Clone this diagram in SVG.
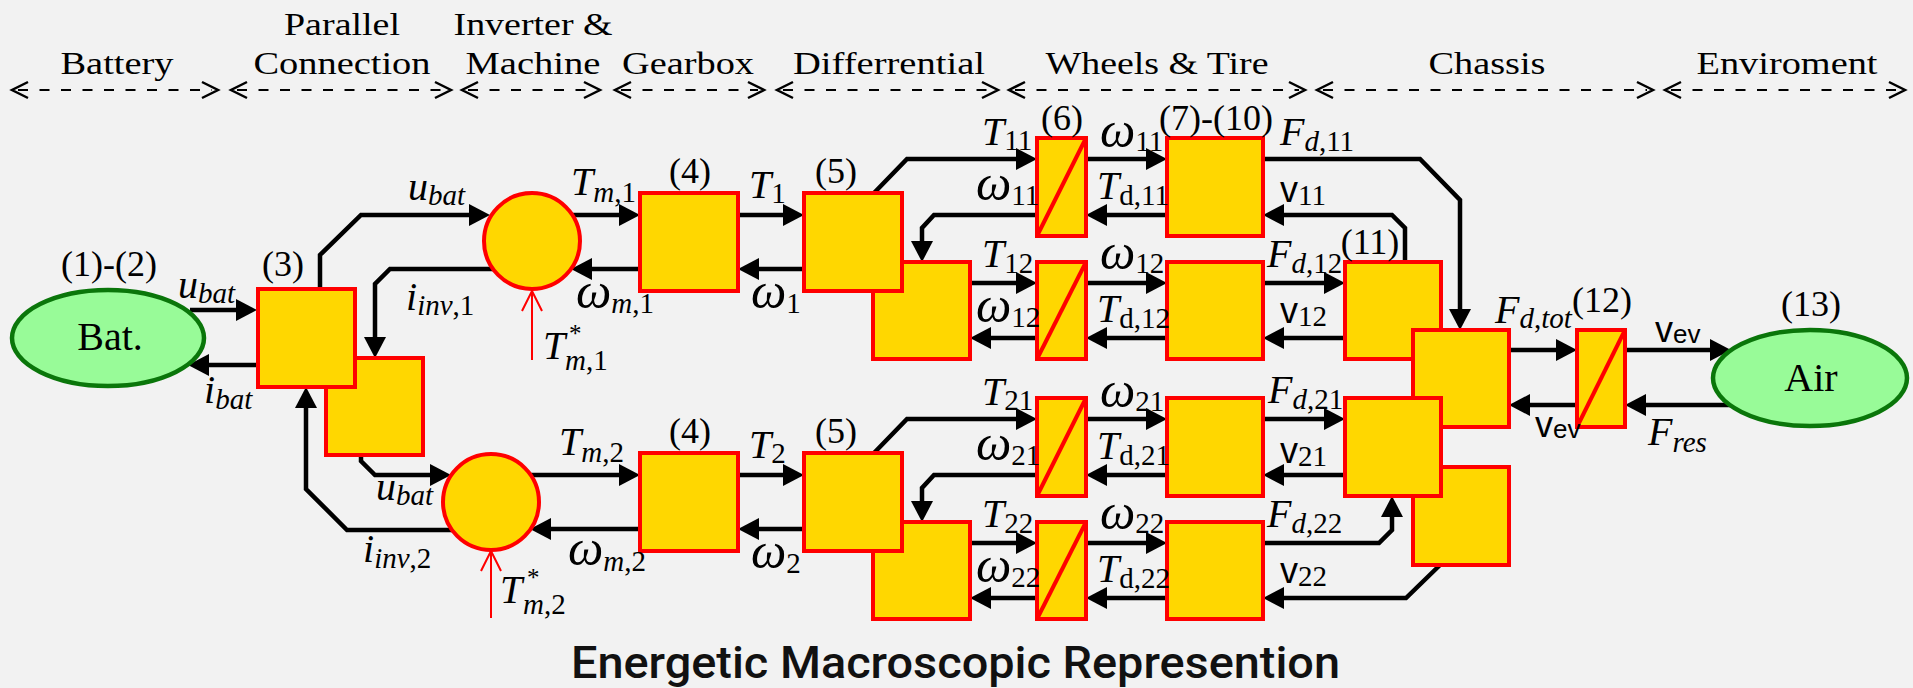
<svg xmlns="http://www.w3.org/2000/svg" xmlns:xlink="http://www.w3.org/1999/xlink" width="1913" height="688" viewBox="0 0 1913 688">
<defs>
<style>
.hd{font-family:"Liberation Serif",serif;font-size:32px;fill:#000;text-anchor:middle}
.hl{fill:none;stroke:#000;stroke-width:2;stroke-dasharray:10 11.5}
.hc{fill:none;stroke:#000;stroke-width:2.5}
.c{fill:none;stroke:#000;stroke-width:4.5;marker-end:url(#ah)}
.box{fill:#FFD700;stroke:#FF0000;stroke-width:4}
.ol{fill:none;stroke:#FF0000;stroke-width:4}
.dg{stroke:#FF0000;stroke-width:4}
.src{fill:#98FB98;stroke:#0A760A;stroke-width:4.5}
.rd{fill:none;stroke:#FF0000;stroke-width:2}
.l{font-family:"Liberation Serif",serif;font-size:40px;fill:#000}
.i{font-style:italic}
.n{font-style:normal}
.s{font-size:29px}
.st{font-size:25px}
.w{font-size:50px}
.num{font-family:"Liberation Serif",serif;font-size:36px;fill:#000;text-anchor:middle}
.v{font-family:"Liberation Sans",sans-serif;font-size:36px;fill:#000}
.vs{font-family:"Liberation Serif",serif;font-size:29px}
.ve{font-family:"Liberation Sans",sans-serif;font-size:26px}
.ttl{font-family:Roboto,"Liberation Sans",sans-serif;font-weight:500;font-size:44px;fill:#111}
</style>
<marker id="ah" viewBox="0 0 21 22" refX="11" refY="11" markerWidth="21" markerHeight="22" markerUnits="userSpaceOnUse" orient="auto">
<path d="M0,0 L21,11 L0,22 z" fill="#000"/>
</marker>
</defs>
<rect x="0" y="0" width="1913" height="688" fill="#F2F2F2"/>

<g id="headers">
<text class="hd" x="117" y="74" textLength="113" lengthAdjust="spacingAndGlyphs">Battery</text>
<text class="hd" x="342" y="35" textLength="116" lengthAdjust="spacingAndGlyphs">Parallel</text>
<text class="hd" x="342" y="74" textLength="177" lengthAdjust="spacingAndGlyphs">Connection</text>
<text class="hd" x="533" y="35" textLength="159" lengthAdjust="spacingAndGlyphs">Inverter &amp;</text>
<text class="hd" x="533" y="74" textLength="135" lengthAdjust="spacingAndGlyphs">Machine</text>
<text class="hd" x="688" y="74" textLength="132" lengthAdjust="spacingAndGlyphs">Gearbox</text>
<text class="hd" x="889" y="74" textLength="192" lengthAdjust="spacingAndGlyphs">Differrential</text>
<text class="hd" x="1157" y="74" textLength="223" lengthAdjust="spacingAndGlyphs">Wheels &amp; Tire</text>
<text class="hd" x="1487" y="74" textLength="117" lengthAdjust="spacingAndGlyphs">Chassis</text>
<text class="hd" x="1787" y="74" textLength="181" lengthAdjust="spacingAndGlyphs">Enviroment</text>
<g id="header-arrows">
<line class="hl" x1="18" y1="90" x2="212" y2="90"/><polyline class="hc" points="28,82 12,90 28,98"/><polyline class="hc" points="202,82 218,90 202,98"/>
<line class="hl" x1="237" y1="90" x2="445" y2="90"/><polyline class="hc" points="247,82 231,90 247,98"/><polyline class="hc" points="435,82 451,90 435,98"/>
<line class="hl" x1="468" y1="90" x2="594" y2="90"/><polyline class="hc" points="478,82 462,90 478,98"/><polyline class="hc" points="584,82 600,90 584,98"/>
<line class="hl" x1="621" y1="90" x2="758" y2="90"/><polyline class="hc" points="631,82 615,90 631,98"/><polyline class="hc" points="748,82 764,90 748,98"/>
<line class="hl" x1="783" y1="90" x2="992" y2="90"/><polyline class="hc" points="793,82 777,90 793,98"/><polyline class="hc" points="982,82 998,90 982,98"/>
<line class="hl" x1="1015" y1="90" x2="1299" y2="90"/><polyline class="hc" points="1025,82 1009,90 1025,98"/><polyline class="hc" points="1289,82 1305,90 1289,98"/>
<line class="hl" x1="1323" y1="90" x2="1647" y2="90"/><polyline class="hc" points="1333,82 1317,90 1333,98"/><polyline class="hc" points="1637,82 1653,90 1637,98"/>
<line class="hl" x1="1671" y1="90" x2="1899" y2="90"/><polyline class="hc" points="1681,82 1665,90 1681,98"/><polyline class="hc" points="1889,82 1905,90 1889,98"/>
</g>
</g>

<g id="connectors">
<path class="c" d="M190,310 H247"/>
<path class="c" d="M257,365 H198"/>
<path class="c" d="M320,289 V255 L361,215 H480"/>
<path class="c" d="M500,269 H390 L375,284 V348"/>
<path class="c" d="M460,530 H347 L306,489 V397"/>
<path class="c" d="M361,455 V461 L375,475 H441"/>
<path class="c" d="M560,215 H630"/>
<path class="c" d="M640,269 H581"/>
<path class="c" d="M520,475 H630"/>
<path class="c" d="M640,529 H540"/>
<path class="c" d="M738,215 H794"/>
<path class="c" d="M804,269 H748"/>
<path class="c" d="M738,475 H794"/>
<path class="c" d="M804,529 H748"/>
<path class="c" d="M874,193 L907,159 H1027"/>
<path class="c" d="M1037,215 H934 L922,228 V252"/>
<path class="c" d="M970,283 H1027"/>
<path class="c" d="M1037,338 H980"/>
<path class="c" d="M1086,159 H1157"/>
<path class="c" d="M1167,215 H1096"/>
<path class="c" d="M1086,283 H1157"/>
<path class="c" d="M1167,338 H1096"/>
<path class="c" d="M1263,159 H1420 L1460,200 V320"/>
<path class="c" d="M1405,262 V228 L1392,215 H1273"/>
<path class="c" d="M1263,283 H1335"/>
<path class="c" d="M1345,338 H1273"/>
<path class="c" d="M1509,350 H1567"/>
<path class="c" d="M1577,405 H1519"/>
<path class="c" d="M1625,350 H1721"/>
<path class="c" d="M1745,405 H1635"/>
<path class="c" d="M874,453 L907,419 H1027"/>
<path class="c" d="M1037,475 H934 L922,488 V512"/>
<path class="c" d="M970,543 H1027"/>
<path class="c" d="M1037,598 H980"/>
<path class="c" d="M1086,419 H1157"/>
<path class="c" d="M1167,475 H1096"/>
<path class="c" d="M1086,543 H1157"/>
<path class="c" d="M1167,598 H1096"/>
<path class="c" d="M1263,419 H1335"/>
<path class="c" d="M1345,475 H1273"/>
<path class="c" d="M1263,543 H1379 L1392,530 V506"/>
<path class="c" d="M1440,565 L1406,598 H1273"/>
<g id="references">
<path class="rd" d="M532,360 V292"/><polyline class="rd" points="522,311 532,291 542,311"/>
<path class="rd" d="M491,618 V552"/><polyline class="rd" points="481,571 491,551 501,571"/>
</g>
</g>

<g id="bat"><ellipse class="src" cx="108" cy="338" rx="96" ry="48"/><text class="l" x="110" y="350" text-anchor="middle">Bat.</text></g>
<g id="par1"><rect id="r-par1" class="box" x="258" y="289" width="97" height="98"/></g>
<g id="par2"><rect class="box" x="326" y="358" width="97" height="97"/></g>
<g id="inv1"><circle class="box" cx="532" cy="241" r="48"/></g>
<g id="inv2"><circle class="box" cx="491" cy="502" r="48"/></g>
<g id="gb1"><rect class="box" x="640" y="193" width="98" height="98"/></g>
<g id="gb2"><rect class="box" x="640" y="453" width="98" height="98"/></g>
<g id="dif1a"><rect id="r-dif1a" class="box" x="804" y="193" width="98" height="98"/></g>
<g id="dif1b"><rect class="box" x="873" y="262" width="97" height="97"/></g>
<g id="dif2a"><rect id="r-dif2a" class="box" x="804" y="453" width="98" height="98"/></g>
<g id="dif2b"><rect class="box" x="873" y="522" width="97" height="97"/></g>
<g id="conv11"><rect class="box" x="1037" y="138" width="49" height="98"/><line class="dg" x1="1037" y1="236" x2="1086" y2="138"/></g>
<g id="conv12"><rect class="box" x="1037" y="262" width="49" height="97"/><line class="dg" x1="1037" y1="359" x2="1086" y2="262"/></g>
<g id="conv21"><rect class="box" x="1037" y="398" width="49" height="98"/><line class="dg" x1="1037" y1="496" x2="1086" y2="398"/></g>
<g id="conv22"><rect class="box" x="1037" y="522" width="49" height="97"/><line class="dg" x1="1037" y1="619" x2="1086" y2="522"/></g>
<g id="wh11"><rect class="box" x="1167" y="138" width="96" height="98"/></g>
<g id="wh12"><rect class="box" x="1167" y="262" width="96" height="97"/></g>
<g id="wh21"><rect class="box" x="1167" y="398" width="96" height="98"/></g>
<g id="wh22"><rect class="box" x="1167" y="522" width="96" height="97"/></g>
<g id="cpl1"><rect id="r-cpl1" class="box" x="1345" y="262" width="96" height="97"/></g>
<g id="chas1"><rect id="r-chas1" class="box" x="1413" y="330" width="96" height="97"/></g>
<g id="cpl2"><rect id="r-cpl2" class="box" x="1345" y="398" width="96" height="98"/></g>
<g id="chas2"><rect class="box" x="1413" y="467" width="96" height="98"/></g>
<g id="conv-ev"><rect class="box" x="1577" y="330" width="48" height="97"/><line class="dg" x1="1577" y1="427" x2="1625" y2="330"/></g>
<g id="air"><ellipse class="src" cx="1810" cy="378" rx="97" ry="48"/><text class="l" x="1811" y="391" text-anchor="middle" font-size="42">Air</text></g>
<g id="overlap-outlines">
<use xlink:href="#r-par1" class="ol"/>
<use xlink:href="#r-dif1a" class="ol"/>
<use xlink:href="#r-dif2a" class="ol"/>
<use xlink:href="#r-cpl1" class="ol"/>
<use xlink:href="#r-chas1" class="ol"/>
<use xlink:href="#r-cpl2" class="ol"/>
</g>

<g id="labels">
<text class="num" x="109" y="276">(1)-(2)</text>
<text class="num" x="283" y="276">(3)</text>
<text class="num" x="690" y="183">(4)</text>
<text class="num" x="690" y="443">(4)</text>
<text class="num" x="836" y="183">(5)</text>
<text class="num" x="836" y="443">(5)</text>
<text class="num" x="1062" y="130">(6)</text>
<text class="num" x="1216" y="130">(7)-(10)</text>
<text class="num" x="1370" y="254">(11)</text>
<text class="num" x="1602" y="312">(12)</text>
<text class="num" x="1811" y="316">(13)</text>

<text class="l i" x="178" y="298">u<tspan class="s" dy="5">bat</tspan></text>
<text class="l i" x="204" y="403">i<tspan class="s" dy="6">bat</tspan></text>
<text class="l i" x="408" y="200">u<tspan class="s" dy="5">bat</tspan></text>
<text class="l i" x="406" y="310">i<tspan class="s" dy="5">inv<tspan class="n">,1</tspan></tspan></text>
<text class="l i" x="376" y="500">u<tspan class="s" dy="5">bat</tspan></text>
<text class="l i" x="363" y="562">i<tspan class="s" dy="6">inv<tspan class="n">,2</tspan></tspan></text>
<text class="l i" x="571" y="195">T<tspan class="s" dy="7">m<tspan class="n">,1</tspan></tspan></text>
<text class="l i" x="576" y="308"><tspan class="w">ω</tspan><tspan class="s" dy="5">m<tspan class="n">,1</tspan></tspan></text>
<text class="l i" x="559" y="455">T<tspan class="s" dy="7">m<tspan class="n">,2</tspan></tspan></text>
<text class="l i" x="568" y="565"><tspan class="w">ω</tspan><tspan class="s" dy="6">m<tspan class="n">,2</tspan></tspan></text>
<text class="l i" x="543" y="359">T<tspan class="st n" x="569" y="342">*</tspan><tspan class="s" x="565" y="370">m<tspan class="n">,1</tspan></tspan></text>
<text class="l i" x="500" y="603">T<tspan class="st n" x="527" y="586">*</tspan><tspan class="s" x="523" y="614">m<tspan class="n">,2</tspan></tspan></text>

<text class="l i" x="749" y="198">T<tspan class="s n" dy="5">1</tspan></text>
<text class="l i" x="751" y="308"><tspan class="w">ω</tspan><tspan class="s n" dy="5">1</tspan></text>
<text class="l i" x="749" y="458">T<tspan class="s n" dy="5">2</tspan></text>
<text class="l i" x="751" y="568"><tspan class="w">ω</tspan><tspan class="s n" dy="5">2</tspan></text>

<text class="l i" x="982" y="145">T<tspan class="s n" dy="5">11</tspan></text>
<text class="l i" x="976" y="200"><tspan class="w">ω</tspan><tspan class="s n" dy="5">11</tspan></text>
<text class="l i" x="982" y="267">T<tspan class="s n" dy="6">12</tspan></text>
<text class="l i" x="976" y="322"><tspan class="w">ω</tspan><tspan class="s n" dy="5">12</tspan></text>
<text class="l i" x="982" y="405">T<tspan class="s n" dy="5">21</tspan></text>
<text class="l i" x="976" y="460"><tspan class="w">ω</tspan><tspan class="s n" dy="5">21</tspan></text>
<text class="l i" x="982" y="527">T<tspan class="s n" dy="6">22</tspan></text>
<text class="l i" x="976" y="582"><tspan class="w">ω</tspan><tspan class="s n" dy="5">22</tspan></text>

<text class="l i" x="1100" y="147"><tspan class="w">ω</tspan><tspan class="s n" dy="4">11</tspan></text>
<text class="l i" x="1097" y="199">T<tspan class="s n" dy="6">d,11</tspan></text>
<text class="l i" x="1100" y="269"><tspan class="w">ω</tspan><tspan class="s n" dy="4">12</tspan></text>
<text class="l i" x="1097" y="322">T<tspan class="s n" dy="6">d,12</tspan></text>
<text class="l i" x="1100" y="407"><tspan class="w">ω</tspan><tspan class="s n" dy="4">21</tspan></text>
<text class="l i" x="1097" y="459">T<tspan class="s n" dy="6">d,21</tspan></text>
<text class="l i" x="1100" y="529"><tspan class="w">ω</tspan><tspan class="s n" dy="4">22</tspan></text>
<text class="l i" x="1097" y="582">T<tspan class="s n" dy="6">d,22</tspan></text>

<text class="l i" x="1280" y="145">F<tspan class="s" dy="6">d<tspan class="n">,11</tspan></tspan></text>
<text class="v" x="1280" y="202">v<tspan class="vs" dy="3">11</tspan></text>
<text class="l i" x="1267" y="267">F<tspan class="s" dy="6">d<tspan class="n">,12</tspan></tspan></text>
<text class="v" x="1280" y="323">v<tspan class="vs" dy="3">12</tspan></text>
<text class="l i" x="1268" y="403">F<tspan class="s" dy="6">d<tspan class="n">,21</tspan></tspan></text>
<text class="v" x="1280" y="463">v<tspan class="vs" dy="3">21</tspan></text>
<text class="l i" x="1267" y="527">F<tspan class="s" dy="6">d<tspan class="n">,22</tspan></tspan></text>
<text class="v" x="1280" y="583">v<tspan class="vs" dy="3">22</tspan></text>
<text class="l i" x="1495" y="323">F<tspan class="s" dy="5">d<tspan class="n">,</tspan>tot</tspan></text>
<text class="v" x="1655" y="342">v<tspan class="ve" dy="1">ev</tspan></text>
<text class="v" x="1535" y="437">v<tspan class="ve" dy="1">ev</tspan></text>
<text class="l i" x="1648" y="445">F<tspan class="s" dy="7">res</tspan></text>
</g>

<text class="ttl" x="571" y="678" textLength="769" lengthAdjust="spacingAndGlyphs">Energetic Macroscopic Represention</text>
</svg>
